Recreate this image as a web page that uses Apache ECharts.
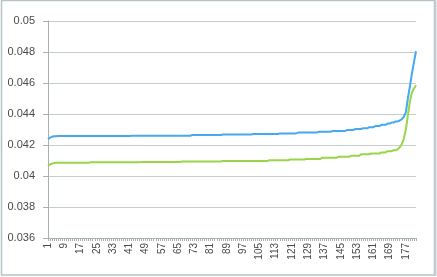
<!DOCTYPE html>
<html><head><meta charset="utf-8">
<script src="https://cdn.jsdelivr.net/npm/echarts@6/dist/echarts.min.js"></script>
<style>html,body{margin:0;padding:0;background:#fff}#c{width:437px;height:277px}</style>
</head><body><div id="c"></div>
<script>
const categories = Array.from({length: 182}, (_, i) => String(i + 1));
const yTicks = [0.036, 0.038, 0.04, 0.042, 0.044, 0.046, 0.048, 0.05];
const blueSeries = [
  0.04238,0.04247,0.04253,0.04256,0.04256,0.04258,0.04258,0.04258,0.04258,0.04258,
  0.04258,0.04258,0.04258,0.04258,0.04258,0.04258,0.04258,0.04258,0.04258,0.04258,
  0.04258,0.04258,0.04258,0.04258,0.04258,0.04258,0.04258,0.04258,0.04258,0.04258,
  0.04258,0.04258,0.04258,0.04258,0.04258,0.04258,0.04258,0.04258,0.04258,0.04258,
  0.04258,0.04260,0.04260,0.04260,0.04260,0.04260,0.04260,0.04260,0.04260,0.04260,
  0.04260,0.04260,0.04260,0.04260,0.04260,0.04260,0.04260,0.04260,0.04260,0.04260,
  0.04260,0.04260,0.04260,0.04260,0.04260,0.04260,0.04260,0.04260,0.04260,0.04260,
  0.04260,0.04265,0.04265,0.04265,0.04265,0.04265,0.04265,0.04265,0.04265,0.04265,
  0.04265,0.04265,0.04265,0.04265,0.04265,0.04265,0.04268,0.04268,0.04268,0.04268,
  0.04268,0.04268,0.04268,0.04268,0.04268,0.04268,0.04268,0.04268,0.04268,0.04268,
  0.04268,0.04271,0.04271,0.04271,0.04271,0.04271,0.04271,0.04271,0.04271,0.04271,
  0.04271,0.04271,0.04271,0.04271,0.04275,0.04275,0.04275,0.04275,0.04275,0.04275,
  0.04275,0.04275,0.04275,0.04280,0.04280,0.04280,0.04280,0.04280,0.04280,0.04280,
  0.04280,0.04280,0.04280,0.04285,0.04285,0.04285,0.04285,0.04285,0.04285,0.04285,
  0.04290,0.04290,0.04290,0.04290,0.04290,0.04290,0.04290,0.04296,0.04296,0.04296,
  0.04296,0.04303,0.04303,0.04303,0.04303,0.04308,0.04308,0.04308,0.04315,0.04315,
  0.04315,0.04322,0.04322,0.04322,0.04330,0.04330,0.04330,0.04338,0.04338,0.04345,
  0.04345,0.04352,0.04352,0.04358,0.04366,0.04382,0.04410,0.04500,0.04580,0.04660,
  0.04735,0.04805
];
const greenSeries = [
  0.04065,0.04074,0.04080,0.04084,0.04086,0.04086,0.04086,0.04086,0.04086,0.04086,
  0.04086,0.04086,0.04086,0.04086,0.04086,0.04086,0.04086,0.04086,0.04086,0.04086,
  0.04086,0.04088,0.04088,0.04088,0.04088,0.04088,0.04088,0.04088,0.04088,0.04088,
  0.04088,0.04088,0.04088,0.04088,0.04088,0.04088,0.04088,0.04088,0.04088,0.04088,
  0.04088,0.04088,0.04088,0.04088,0.04088,0.04088,0.04091,0.04091,0.04091,0.04091,
  0.04091,0.04091,0.04091,0.04091,0.04091,0.04091,0.04091,0.04091,0.04091,0.04091,
  0.04091,0.04091,0.04091,0.04091,0.04091,0.04091,0.04094,0.04094,0.04094,0.04094,
  0.04094,0.04094,0.04094,0.04094,0.04094,0.04094,0.04094,0.04094,0.04094,0.04094,
  0.04094,0.04094,0.04094,0.04094,0.04094,0.04094,0.04097,0.04097,0.04097,0.04097,
  0.04097,0.04097,0.04097,0.04097,0.04097,0.04097,0.04097,0.04097,0.04097,0.04097,
  0.04097,0.04097,0.04097,0.04097,0.04097,0.04097,0.04097,0.04097,0.04097,0.04102,
  0.04102,0.04102,0.04102,0.04102,0.04102,0.04102,0.04102,0.04102,0.04102,0.04106,
  0.04106,0.04106,0.04106,0.04106,0.04106,0.04106,0.04106,0.04110,0.04110,0.04110,
  0.04110,0.04110,0.04110,0.04110,0.04110,0.04118,0.04118,0.04118,0.04118,0.04118,
  0.04118,0.04118,0.04118,0.04124,0.04124,0.04124,0.04124,0.04124,0.04124,0.04130,
  0.04130,0.04130,0.04130,0.04130,0.04140,0.04140,0.04140,0.04140,0.04140,0.04145,
  0.04145,0.04145,0.04145,0.04145,0.04152,0.04152,0.04152,0.04160,0.04160,0.04160,
  0.04166,0.04166,0.04172,0.04185,0.04205,0.04240,0.04300,0.04390,0.04480,0.04540,
  0.04565,0.04585
];

const chart = echarts.init(document.getElementById('c'), null, {renderer: 'canvas'});
chart.setOption({
  animation: false,
  backgroundColor: '#ffffff',
  grid: {left: 48, right: 21, top: 21, bottom: 39, containLabel: false},
  xAxis: {
    type: 'category',
    data: categories,
    boundaryGap: false,
    axisLine: {show: true, lineStyle: {color: '#a8b0b4', width: 1}},
    axisTick: {show: true, interval: 0, length: 3, lineStyle: {color: '#a8b0b4'}},
    axisLabel: {interval: 7, rotate: 90, margin: 5, fontSize: 10, color: '#4a4a4a',
      fontFamily: 'Liberation Sans'},
    splitLine: {show: false}
  },
  yAxis: {
    type: 'value',
    min: yTicks[0], max: yTicks[yTicks.length - 1], interval: 0.002,
    axisLine: {show: true, lineStyle: {color: '#a8b0b4', width: 1}},
    axisTick: {show: true, length: 5, lineStyle: {color: '#a8b0b4'}},
    axisLabel: {margin: 13, fontSize: 11, color: '#4a4a4a', fontFamily: 'Liberation Sans',
      formatter: v => String(+(+v).toFixed(3))},
    splitLine: {show: true, lineStyle: {color: '#c5cdd1', width: 1}}
  },
  graphic: [
    {type: 'rect', shape: {x: 1.5, y: 0.5, width: 433, height: 274.5}, silent: true,
      style: {fill: 'none', stroke: '#b7c3c7', lineWidth: 1.5}},
    {type: 'line', shape: {x1: 435.5, y1: 0, x2: 435.5, y2: 276}, silent: true,
      style: {stroke: '#c6d0d3', lineWidth: 2}}
  ],
  series: [
    {type: 'line', data: blueSeries, showSymbol: false, symbol: 'none',
      lineStyle: {color: '#46a8f0', width: 2}, itemStyle: {color: '#46a8f0'}},
    {type: 'line', data: greenSeries, showSymbol: false, symbol: 'none',
      lineStyle: {color: '#98d548', width: 2}, itemStyle: {color: '#98d548'}}
  ]
});
</script></body></html>
